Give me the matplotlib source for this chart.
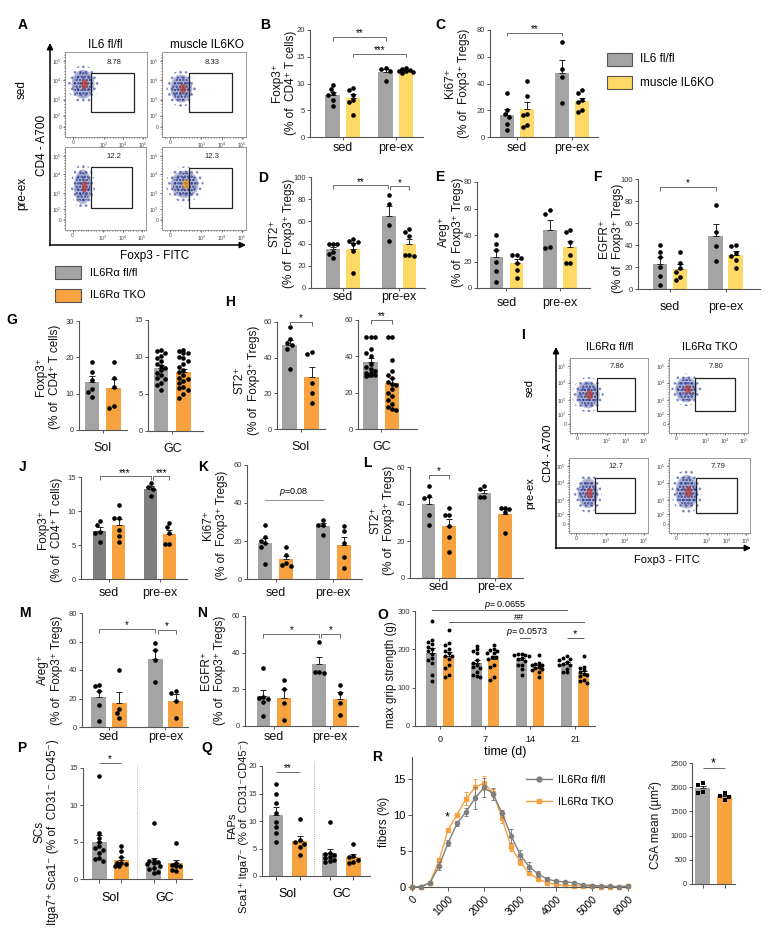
import numpy as np
import matplotlib
matplotlib.use("Agg")
import matplotlib.pyplot as plt
from matplotlib.patches import Rectangle, Ellipse
from matplotlib.lines import Line2D

plt.rcParams['font.family'] = ['Liberation Sans', 'DejaVu Sans']
plt.rcParams['mathtext.fontset'] = 'custom'
plt.rcParams['mathtext.rm'] = 'Liberation Sans'
plt.rcParams['mathtext.it'] = 'Liberation Sans:italic'
plt.rcParams['hatch.linewidth'] = 1.2

# ------------------------------------------------------------------ data
grp2 = ['sed', 'pre-ex']
tissues = ['Sol', 'GC']
days = ['0', '7', '14', '21']

# order in each 4-list: sed fl/fl, sed KO, pre-ex fl/fl, pre-ex KO
B_vals = [[9.8, 9.0, 8.2, 7.8, 6.9, 5.8], [9.1, 8.8, 7.8, 6.9, 6.6, 4.1],
          [12.9, 12.8, 12.3, 10.5], [12.9, 12.7, 12.5, 12.4, 12.2, 12.0, 12.3]]
C_vals = [[33, 20, 17, 15, 10, 5], [42, 31, 17.5, 16.8, 8.8, 7.5],
          [71, 51, 44.5, 25.5], [35, 33, 28, 26, 20, 18.8]]
D_vals = [[40, 39.7, 39.7, 32.8, 31, 27], [44, 42, 41, 40, 33, 13.5],
          [83.6, 76, 56.7, 42.4], [52.8, 50.7, 47, 30, 29, 30]]
E_vals = [[40, 33, 28.7, 20, 12.5, 4.2], [25, 25, 22.5, 18.7, 13.7, 7.5],
          [56, 58.7, 30, 30.7], [42.5, 43.7, 35, 18.7, 18.7, 25]]
F_vals = [[40, 34, 29, 20.4, 11.9, 3.6], [34, 24, 18.8, 15.8, 10.6, 8.2],
          [76.6, 52, 39, 25.8], [40, 39, 33, 30, 26, 19]]
G_sol = [[18.8, 16.0, 13.8, 11.2, 10.5, 9.2], [18.8, 14.2, 11.9, 6.6, 6.1]]
G_gc = [[11.0, 10.8, 10.5, 10.2, 9.8, 9.5, 9.0, 8.8, 8.5, 8.2, 7.8, 7.5, 7.2, 7.0, 6.5, 6.2, 5.6],
        [11.0, 10.8, 10.6, 10.5, 10.0, 9.8, 9.5, 9.0, 8.7, 8.3, 8.0, 7.5, 7.2, 7.0, 6.8,
         6.5, 6.0, 5.8, 5.5, 5.0, 4.5]]
H_sol = [[57, 50.7, 48.5, 47, 45, 33.8], [43.2, 41.9, 25.9, 20.3, 14.6]]
H_gc = [[50.5, 50.5, 50.5, 44, 42, 40, 36, 34, 33, 32, 31, 31, 30, 30, 29.5, 29],
        [50.5, 50.5, 38, 32, 30, 28, 26, 25, 24, 22, 20, 18, 16, 14, 12, 11, 10.5]]
J_vals = [[8.5, 7.9, 6.9, 6.8, 5.5], [10.9, 9.0, 8.9, 7.2, 6.3, 5.5],
          [14.1, 13.5, 13.3, 12.2], [8.3, 7.7, 6.8, 5.2, 5.2]]
K_vals = [[28.5, 22, 20, 19, 17, 8], [16.6, 12.6, 8.3, 7.4, 6.6],
          [31.2, 28.6, 28.2, 23], [27.9, 25.3, 18.7, 11.4, 5.7]]
L_vals = [[49.8, 44.4, 43, 33.8, 28.9], [38, 34, 33.8, 28, 22, 14.2],
          [49.6, 48, 43.6, 43.6], [38.1, 38.1, 37.5, 35.6, 24.5]]
M_vals = [[29.5, 28.8, 25.5, 15.4, 4.4], [40, 12.6, 9.8, 6.3],
          [59, 54, 47, 31.8], [25.3, 24.1, 18.5, 6.3]]
N_vals = [[31.7, 16, 15.3, 14.8, 13.3, 5.6], [25.1, 20.2, 12.6, 3.3],
          [45.9, 29.7, 29.1, 29.7], [22.4, 18.2, 12.7, 6]]
# O: grip strength (g) per day: fl/fl, TKO
O_fl = [[274, 225, 220, 214, 207, 200, 195, 188, 178, 173, 165, 134, 117],
        [210, 200, 195, 190, 172, 165, 160, 155, 152, 140, 134, 130, 129],
        [189, 187, 186, 185, 182, 178, 175, 170, 160, 158, 150, 134],
        [182, 178, 175, 173, 168, 162, 160, 160, 150, 140, 140]]
O_tko = [[250, 217, 212, 200, 195, 190, 182, 182, 175, 160, 152, 134, 129],
         [212, 201, 198, 195, 190, 190, 181, 180, 175, 160, 155, 129, 121],
         [186, 165, 162, 160, 158, 155, 152, 148, 147, 140, 127],
         [182, 155, 152, 145, 140, 135, 134, 130, 121, 117, 113]]
# P, Q: Sol fl, Sol TKO, GC fl, GC TKO
P_vals = [[13.9, 6.2, 5.6, 5.0, 4.4, 4.2, 3.9, 3.5, 2.8, 2.7, 2.4],
          [4.4, 3.8, 3.0, 2.2, 2.1, 2.0, 1.75, 1.7],
          [7.6, 2.6, 2.4, 2.3, 2.2, 2.0, 1.8, 1.5, 1.4, 1.0, 0.85],
          [4.9, 2.2, 1.9, 1.75, 1.7, 1.2, 1.1]]
Q_vals = [[16.7, 15.0, 13.3, 11.5, 9.9, 9.0, 7.8, 6.2],
          [10.4, 6.5, 6.2, 5.9, 5.3, 3.8],
          [9.9, 4.2, 4.0, 3.9, 3.5, 3.2, 2.9, 2.7, 2.6],
          [5.9, 3.6, 3.4, 3.0, 2.6, 2.4]]
# R: fiber CSA distribution
R_x = [0, 250, 500, 750, 1000, 1250, 1500, 1750, 2000, 2250, 2500, 2750, 3000,
       3250, 3500, 3750, 4000, 4250, 4500, 4750, 5000, 5250, 5500, 5750, 6000]
R_fl = [0, 0.05, 0.6, 2.9, 6.1, 8.8, 10.4, 12.3, 13.8, 12.9, 10.2, 7.1, 4.5,
        2.8, 1.8, 1.1, 0.8, 0.7, 0.6, 0.3, 0.2, 0.15, 0.1, 0.05, 0.1]
R_fl_err = [0, 0, 0.1, 0.5, 0.4, 0.3, 0.5, 1.5, 1.3, 0.8, 0.5, 1.0, 0.6,
            0.6, 0.4, 0.3, 0.2, 0.2, 0.15, 0.1, 0.1, 0.05, 0.05, 0.05, 0.1]
R_tko = [0, 0.05, 0.6, 3.7, 7.9, 10.0, 12.2, 13.8, 14.4, 13.0, 9.5, 5.5, 3.5,
         1.9, 1.1, 0.6, 0.35, 0.25, 0.2, 0.1, 0.1, 0.05, 0.05, 0.05, 0.1]
R_tko_err = [0, 0, 0.1, 0.3, 0.3, 0.3, 0.9, 1.1, 1.0, 0.6, 0.6, 0.5, 0.4,
             0.3, 0.2, 0.2, 0.1, 0.1, 0.1, 0.05, 0.05, 0.05, 0.05, 0.05, 0.1]
R_csa = [[2045, 2080, 1907, 1873], [1874, 1804, 1825, 1736]]

# flow cytometry panels
A_pct = ['8.78', '8.33', '12.2', '12.3']
I_pct = ['7.86', '7.80', '12.7', '7.79']
A_cols = ['IL6 fl/fl', 'muscle IL6KO']
I_cols = ['IL6Rα fl/fl', 'IL6Rα TKO']
flow_rows = ['sed', 'pre-ex']
leg_top = ['IL6 fl/fl', 'muscle IL6KO']
leg_bot = ['IL6Rα fl/fl', 'IL6Rα TKO']

# ------------------------------------------------------------------ style
W, H = 773, 940
GREY = '#A4A4A4'
GREY_D = '#7E807E'
YEL = '#FFD966'
ORG = '#F7A23E'
AXC = '#555555'
TXC = '#333333'
NAVY = '#2B3A8F'

fig = plt.figure(figsize=(W / 100, H / 100), dpi=100)
fig.patch.set_facecolor('white')

ov = fig.add_axes([0, 0, 1, 1], zorder=10)
ov.set_xlim(0, W)
ov.set_ylim(H, 0)
ov.axis('off')


def new_ax(rect):
    l, t, r, b = rect
    return fig.add_axes([l / W, 1 - b / H, (r - l) / W, (b - t) / H])


def style(ax, ymax, yticks, xlim, ytick_fs=5.5):
    ax.set_xlim(*xlim)
    ax.set_ylim(0, ymax)
    ax.patch.set_alpha(0)
    for s in ('top', 'right'):
        ax.spines[s].set_visible(False)
    for s in ('left', 'bottom'):
        ax.spines[s].set_color(AXC)
        ax.spines[s].set_linewidth(0.8)
    ax.set_yticks(yticks)
    ax.tick_params(axis='y', labelsize=ytick_fs, length=2.5, width=0.7, pad=1.2,
                   color=AXC, labelcolor=TXC)
    ax.tick_params(axis='x', length=2.5, width=0.7, color=AXC, labelcolor='#111')


def swarm(ax, x0, vals, d, maxoff):
    T = ax.transData
    vals = np.asarray(vals, float)
    pts = T.transform(np.column_stack([np.full(len(vals), x0), vals]))
    cx = pts[0, 0]
    cands = [0.0]
    k = 1
    step = d * 0.5
    while k * step <= maxoff:
        cands += [-k * step, k * step]
        k += 1
    placed = []
    out = np.zeros(len(vals))
    for i in np.argsort(-vals, kind='stable'):
        y = pts[i, 1]
        best = None
        bestd, bestx = -1, cx
        for c in cands:
            x = cx + c
            md = min([np.hypot(x - px, y - py) for px, py in placed], default=1e9)
            if md >= d:
                best = x
                break
            if md > bestd:
                bestd, bestx = md, x
        if best is None:
            best = bestx
        placed.append((best, y))
        out[i] = T.inverted().transform((best, y))[0]
    return out


def bars(ax, vals, colors, pos, width, dot_px=4.4, ms=11, marker='o', maxoff=None):
    x0 = ax.transData.transform((0, 0))[0]
    x1 = ax.transData.transform((width, 0))[0]
    wpx = x1 - x0
    if maxoff is None:
        maxoff = wpx * 0.45
    for v, c, p in zip(vals, colors, pos):
        v = np.asarray(v, float)
        m = v.mean()
        sem = v.std(ddof=1) / np.sqrt(len(v))
        ax.bar(p, m, width, color=c, lw=0, zorder=1)
        ax.errorbar(p, m, yerr=[[0], [sem]], fmt='none', ecolor='#222', elinewidth=0.7,
                    capsize=2.3, capthick=0.7, zorder=2)
        xs = swarm(ax, p, v, dot_px, maxoff)
        ax.scatter(xs, v, s=ms, c='k', lw=0, marker=marker, zorder=3, clip_on=False)


def bracket(ax, x1, x2, y, label, tick=True, fs=7, gap=-1.0, color='#555', lw=0.6):
    t = 0.035 * ax.get_ylim()[1] if tick else 0
    ax.plot([x1, x1, x2, x2], [y - t, y, y, y - t], color=color, lw=lw,
            clip_on=False, zorder=4, solid_capstyle='butt')
    ax.annotate(label, xy=((x1 + x2) / 2, y), xytext=(0, gap), textcoords='offset points',
                ha='center', va='bottom', fontsize=fs, annotation_clip=False)


def four_panel(rect, vals, cfl, cko, off, width, xlim, ymax, yticks, pad):
    ax = new_ax(rect)
    style(ax, ymax, yticks, xlim)
    bars(ax, vals, [cfl, cko, cfl, cko], [-off, off, 1 - off, 1 + off], width)
    ax.set_xticks([0, 1])
    ax.set_xticklabels(grp2, fontsize=9)
    ax.tick_params(axis='x', pad=pad)
    return ax


def ylab(x, y, s, fs=8.5, ls=1.25):
    lines = s.split('\n')
    step = fs * 100 / 72 * ls
    n = len(lines)
    for i, line in enumerate(lines):
        ov.text(x + (i - (n - 1) / 2) * step, y, line, rotation=90, ha='center',
                va='center', fontsize=fs, color='#111')


def letter(x, y, s):
    ov.text(x, y, s, ha='center', va='center', fontsize=10, fontweight='bold')


# ------------------------------------------------------------------ flow panels
FXT = [0.094, 0.47, 0.71, 0.95]
FXL = ['0', '$10^3$', '$10^4$', '$10^5$']
FYT = [0.12, 0.25, 0.44, 0.67, 0.89]
FYL = ['0', '$10^2$', '$10^3$', '$10^4$', '$10^5$']


def flow(rect, cloud, core, gate, pct):
    ax = new_ax(rect)
    ax.set_xlim(0, 1)
    ax.set_ylim(0, 1)
    for s in ax.spines.values():
        s.set_color('#888')
        s.set_linewidth(0.6)
    ax.set_xticks(FXT)
    ax.set_xticklabels(FXL, fontsize=3.6)
    ax.set_yticks(FYT)
    ax.set_yticklabels(FYL, fontsize=3.6)
    ax.set_xticks(np.linspace(0.03, 0.97, 30), minor=True)
    ax.set_yticks(np.linspace(0.03, 0.97, 30), minor=True)
    ax.tick_params(which='both', length=1.4, width=0.5, pad=1, color='#333', labelcolor='#444')
    ax.tick_params(which='minor', length=1.0)
    cx, cy, w, h = cloud
    ax.add_patch(Ellipse((cx, cy), w * 1.35, h * 1.3, facecolor='none', edgecolor=NAVY,
                         hatch='...', lw=0, alpha=0.55))
    ax.add_patch(Ellipse((cx, cy), w, h, facecolor=NAVY, edgecolor='none', alpha=0.35))
    ax.add_patch(Ellipse((cx, cy), w * 0.85, h * 0.85, facecolor='none', edgecolor=NAVY,
                         hatch='.....', lw=0))
    ax.add_patch(Ellipse((cx + 0.02, cy), w * 0.3, h * 0.35, facecolor=core, edgecolor='none',
                         alpha=0.7))
    gx0, gx1, gy0, gy1 = gate
    ax.add_patch(Rectangle((gx0, gy0), gx1 - gx0, gy1 - gy0, fill=False, ec='#222', lw=0.9))
    ax.text(0.6, 0.88, pct, fontsize=5.5, ha='center', va='center', color='#222')


A_rects = [(65, 52, 147, 137), (162, 52, 246, 137), (65, 147, 146, 230), (162, 147, 246, 230)]
A_clouds = [(0.22, 0.62, 0.28, 0.34), (0.23, 0.57, 0.26, 0.33),
            (0.22, 0.52, 0.22, 0.42), (0.27, 0.55, 0.33, 0.33)]
A_cores = ['#C0392B', '#C0392B', '#C0392B', '#F39C12']
A_gates = [(0.32, 0.84, 0.30, 0.75), (0.32, 0.83, 0.30, 0.75),
           (0.32, 0.83, 0.27, 0.76), (0.32, 0.83, 0.27, 0.75)]
for i in range(4):
    flow(A_rects[i], A_clouds[i], A_cores[i], A_gates[i], A_pct[i])

I_rects = [(570, 358, 648, 433), (669, 358, 748, 433), (569, 458, 648, 533), (669, 458, 750, 533)]
I_clouds = [(0.23, 0.51, 0.3, 0.36), (0.22, 0.58, 0.28, 0.34),
            (0.24, 0.53, 0.26, 0.4), (0.22, 0.55, 0.28, 0.45)]
I_cores = ['#C0392B'] * 4
I_gates = [(0.34, 0.83, 0.29, 0.74), (0.33, 0.83, 0.29, 0.74),
           (0.33, 0.84, 0.27, 0.74), (0.33, 0.84, 0.27, 0.74)]
for i in range(4):
    flow(I_rects[i], I_clouds[i], I_cores[i], I_gates[i], I_pct[i])

arw = dict(arrowstyle='-|>', lw=1.1, color='k', mutation_scale=9, shrinkA=0, shrinkB=0)
ov.annotate('', xy=(50, 43), xytext=(50, 245.5), arrowprops=arw)
ov.annotate('', xy=(246, 245), xytext=(49.5, 245), arrowprops=arw)
ov.text(105, 45, A_cols[0], ha='center', va='center', fontsize=8.5)
ov.text(207, 45, A_cols[1], ha='center', va='center', fontsize=8.5)
ov.text(155, 256, 'Foxp3 - FITC', ha='center', va='center', fontsize=8.5)
ov.text(42, 145, 'CD4 - A700', rotation=90, ha='center', va='center', fontsize=8.5)
ov.text(22, 90, flow_rows[0], rotation=90, ha='center', va='center', fontsize=8.5)
ov.text(22, 193, flow_rows[1], rotation=90, ha='center', va='center', fontsize=8.5)

ov.annotate('', xy=(556, 347), xytext=(556, 548.5), arrowprops=arw)
ov.annotate('', xy=(751, 548), xytext=(555.5, 548), arrowprops=arw)
ov.text(610, 347, I_cols[0], ha='center', va='center', fontsize=8)
ov.text(710, 347, I_cols[1], ha='center', va='center', fontsize=8)
ov.text(667, 560, 'Foxp3 - FITC', ha='center', va='center', fontsize=8)
ov.text(548, 453, 'CD4 - A700', rotation=90, ha='center', va='center', fontsize=8)
ov.text(530, 388, flow_rows[0], rotation=90, ha='center', va='center', fontsize=8)
ov.text(530, 493, flow_rows[1], rotation=90, ha='center', va='center', fontsize=8)

# legends
for (y0, c, s) in [(53, GREY, leg_top[0]), (76, YEL, leg_top[1])]:
    ov.add_patch(Rectangle((607, y0), 25, 13, facecolor=c, edgecolor='#555', lw=0.8))
    ov.text(640, y0 + 6.5, s, ha='left', va='center', fontsize=8.5)
for (y0, c, s) in [(266, GREY, leg_bot[0]), (289, ORG, leg_bot[1])]:
    ov.add_patch(Rectangle((55, y0), 26, 13, facecolor=c, edgecolor='#555', lw=0.8))
    ov.text(90, y0 + 6.5, s, ha='left', va='center', fontsize=8)

# ------------------------------------------------------------------ B - F
ax = four_panel((310, 30, 423, 137), B_vals, GREY, YEL, 0.19, 0.28, (-0.62, 1.51), 20,
                [0, 5, 10, 15, 20], 0.8)
bracket(ax, -0.19, 0.81, 18.7, '**')
bracket(ax, 0.19, 1.19, 15.6, '***')
ylab(284, 83, 'Foxp3⁺\n(% of  CD4⁺ T cells)')

ax = four_panel((490, 30, 598, 137), C_vals, GREY, YEL, 0.18, 0.25, (-0.49, 1.47), 80,
                [0, 20, 40, 60, 80], 0.8)
bracket(ax, -0.18, 0.82, 78, '**')
ylab(457, 83, 'Ki67⁺\n(% of  Foxp3⁺ Tregs)')

ax = four_panel((311, 177, 425, 288), D_vals, GREY, YEL, 0.18, 0.24, (-0.57, 1.46), 100,
                [0, 20, 40, 60, 80, 100], 0)
bracket(ax, -0.18, 0.8, 92.5, '**')
bracket(ax, 0.84, 1.18, 91.6, '*')
ylab(282, 233, 'ST2⁺\n(% of  Foxp3⁺ Tregs)')

ax = four_panel((477, 182, 590, 288), E_vals, GREY, YEL, 0.19, 0.25, (-0.55, 1.56), 80,
                [0, 20, 40, 60, 80], 4)
ylab(451, 232, 'Areg⁺\n(% of  Foxp3⁺ Tregs)')

ax = four_panel((638, 179, 760, 289), F_vals, GREY, YEL, 0.18, 0.26, (-0.58, 1.62), 100,
                [0, 20, 40, 60, 80, 100], 6.2)
bracket(ax, -0.18, 0.82, 92.7, '*')
ylab(611, 238, 'EGFR⁺\n(% of  Foxp3⁺ Tregs)')


# ------------------------------------------------------------------ G, H
def one_group(rect, vals, off, width, xlim, ymax, yticks, name, pad=6.3):
    ax = new_ax(rect)
    style(ax, ymax, yticks, xlim)
    bars(ax, vals, [GREY, ORG], [-off, off], width)
    ax.set_xticks([0])
    ax.set_xticklabels([name], fontsize=9)
    ax.tick_params(axis='x', pad=pad)
    return ax


one_group((79, 321, 127, 430), G_sol, 0.215, 0.29, (-0.475, 0.485), 30, [0, 10, 20, 30], tissues[0])
one_group((148, 320, 203, 431), G_gc, 0.225, 0.29, (-0.485, 0.615), 15, [0, 5, 10, 15], tissues[1])
ylab(48, 377, 'Foxp3⁺\n(% of  CD4⁺ T cells)')

ax = one_group((277, 322, 325, 429), H_sol, 0.22, 0.29, (-0.47, 0.49), 60, [0, 20, 40, 60], tissues[0])
bracket(ax, -0.22, 0.22, 60, '*')
ax = one_group((358, 320, 417, 429), H_gc, 0.215, 0.29, (-0.465, 0.715), 60, [0, 20, 40, 60], tissues[1])
bracket(ax, -0.215, 0.215, 60, '**')
ylab(247, 380, 'ST2⁺\n(% of  Foxp3⁺ Tregs)')

# ------------------------------------------------------------------ J, K, L
ax = four_panel((81, 477, 187, 579), J_vals, GREY_D, ORG, 0.186, 0.255, (-0.55, 1.53), 15,
                [0, 5, 10, 15], 3.3)
bracket(ax, -0.186, 0.814, 15.1, '***')
bracket(ax, 0.86, 1.186, 15.1, '***')
ylab(50, 530, 'Foxp3⁺\n(% of  CD4⁺ T cells)')

ax = four_panel((247, 465, 362, 579), K_vals, GREY, ORG, 0.185, 0.245, (-0.5, 1.5), 60,
                [0, 20, 40, 60], 3.3)
ax.plot([-0.185, 0.815], [41.6, 41.6], color='#999', lw=0.8, clip_on=False)
ax.text(0.31, 45.8, '$p$=0.08', ha='center', va='center', fontsize=6.5)
ylab(215, 525, 'Ki67⁺\n(% of  Foxp3⁺ Tregs)')

ax = four_panel((410, 467, 523, 578), L_vals, GREY, ORG, 0.185, 0.245, (-0.52, 1.51), 60,
                [0, 20, 40, 60], 0)
bracket(ax, -0.185, 0.185, 55.6, '*')
ylab(382, 520, 'ST2⁺\n(% of  Foxp3⁺ Tregs)', ls=1.15)

# ------------------------------------------------------------------ M, N, O
ax = four_panel((82, 613, 188, 727), M_vals, GREY, ORG, 0.18, 0.265, (-0.48, 1.4), 80,
                [0, 20, 40, 60, 80], 0.4)
bracket(ax, -0.18, 0.82, 68.8, '*')
bracket(ax, 0.86, 1.18, 68.0, '*')
ylab(50, 670, 'Areg⁺\n(% of  Foxp3⁺ Tregs)')

ax = four_panel((245, 616, 358, 726), N_vals, GREY, ORG, 0.185, 0.245, (-0.515, 1.51), 60,
                [0, 20, 40, 60], 1.1)
bracket(ax, -0.185, 0.815, 50.3, '*')
bracket(ax, 0.85, 1.185, 50.3, '*')
ylab(213, 670, 'EGFR⁺\n(% of  Foxp3⁺ Tregs)')

axO = new_ax((415, 611, 595, 726))
style(axO, 300, [0, 100, 200, 300], (-0.56, 3.44))
oo = 0.19
posO, valsO, colsO = [], [], []
for i in range(4):
    posO += [i - oo, i + oo]
    valsO += [O_fl[i], O_tko[i]]
    colsO += [GREY, ORG]
bars(axO, valsO, colsO, posO, 0.255, dot_px=3.6, ms=8, maxoff=8)
axO.set_xticks(range(4))
axO.set_xticklabels(days, fontsize=6.5)
axO.tick_params(axis='x', pad=3.7)
axO.set_xlabel('time (d)', fontsize=9, labelpad=2)
axO.plot([-oo, 3 - oo], [302.6, 302.6], color='#444', lw=0.6, clip_on=False)
axO.text(1.44, 315.7, '$p$= 0.0655', ha='center', va='center', fontsize=6.5)
axO.plot([oo, 3 + oo], [271, 271], color='#444', lw=0.6, clip_on=False)
axO.text(1.76, 284, '##', ha='center', va='center', fontsize=6.5)
axO.plot([1.78, 2.0], [229.6, 229.6], color='#444', lw=0.6, clip_on=False)
axO.text(1.93, 245, '$p$= 0.0573', ha='center', va='center', fontsize=6.5)
bracket(axO, 3 - oo, 3 + oo, 229.6, '*', tick=False, fs=8, color='#444')
ylab(391, 675, 'max grip strength (g)', fs=8.3)


# ------------------------------------------------------------------ P, Q
def tissue_panel(rect, vals, off, width, xlim, ymax, yticks, sep, pad):
    ax = new_ax(rect)
    style(ax, ymax, yticks, xlim)
    pos = [-off, off, 1 - off, 1 + off]
    bars(ax, vals, [GREY, ORG, GREY, ORG], pos, width)
    ax.set_xticks(pos)
    ax.set_xticklabels([])
    ax.tick_params(axis='x', length=3.2)
    ax.set_xticks([0, 1], minor=True)
    ax.set_xticklabels(tissues, minor=True, fontsize=9)
    ax.tick_params(axis='x', which='minor', length=0, pad=pad)
    ax.plot([sep, sep], [0, ymax * 1.04], ls=(0, (1, 1.5)), color='#999', lw=0.6, clip_on=False)
    return ax


ax = tissue_panel((83, 768, 192, 879), P_vals, 0.205, 0.275, (-0.5, 1.5), 15, [0, 5, 10, 15], 0.495, 9.6)
bracket(ax, -0.205, 0.205, 15.7, '*', tick=False)
ylab(46, 832, 'SCs\nItga7⁺ Sca1⁻ (% of  CD31⁻ CD45⁻)', fs=8.5, ls=1.15)

ax = tissue_panel((262, 766, 370, 876), Q_vals, 0.22, 0.27, (-0.48, 1.53), 20, [0, 5, 10, 15, 20], 0.49, 8.8)
bracket(ax, -0.22, 0.22, 18.9, '**', tick=False)
ylab(238, 826, 'FAPs\nSca1⁺ Itga7⁻ (% of  CD31⁻CD45⁻)', fs=8, ls=1.05)

# ------------------------------------------------------------------ R
axR = new_ax((412, 757, 630, 887))
axR.set_xlim(0, 6050)
axR.set_ylim(0, 18)
axR.patch.set_alpha(0)
for s in ('top', 'right'):
    axR.spines[s].set_visible(False)
for s in ('left', 'bottom'):
    axR.spines[s].set_color(AXC)
    axR.spines[s].set_linewidth(0.8)
GL = '#7F7F7F'
axR.errorbar(R_x, R_fl, yerr=R_fl_err, color=GL, marker='o', ms=3, lw=1.0, capsize=1.5,
             elinewidth=0.7, capthick=0.7, clip_on=False, zorder=3)
axR.errorbar(R_x, R_tko, yerr=R_tko_err, color=ORG, marker='s', ms=3, lw=1.0, capsize=1.5,
             elinewidth=0.7, capthick=0.7, clip_on=False, zorder=2)
axR.set_yticks([0, 5, 10, 15])
axR.set_xticks(range(0, 6001, 1000))
axR.set_xticklabels([str(v) for v in range(0, 6001, 1000)], rotation=45, ha='right',
                    va='top', rotation_mode='anchor', fontsize=7.5)
axR.tick_params(axis='y', labelsize=8, length=3, width=0.7, color=AXC, pad=1.5)
axR.tick_params(axis='x', length=3, width=0.7, color=AXC, pad=2)
axR.text(972, 9.6, '*', ha='center', va='center', fontsize=9)
ylab(384, 822, 'fibers (%)', fs=8.5)
handles = [Line2D([], [], color=GL, marker='o', ms=3.5, lw=1.0),
           Line2D([], [], color=ORG, marker='s', ms=3.5, lw=1.0)]
fig.legend(handles, leg_bot, loc='upper left', bbox_to_anchor=(526 / W, 1 - 775 / H),
           frameon=False, fontsize=8, handlelength=2.3, handletextpad=0.6,
           labelspacing=1.1, borderpad=0, borderaxespad=0)

axI = new_ax((692, 763, 735, 884))
style(axI, 2500, [0, 500, 1000, 1500, 2000, 2500], (-0.43, 0.43), ytick_fs=5.5)
bars(axI, R_csa, [GREY, ORG], [-0.22, 0.22], 0.29, dot_px=4.2, ms=11, marker='s')
axI.set_xticks([-0.22, 0.22])
axI.set_xticklabels([])
axI.tick_params(axis='x', length=3)
bracket(axI, -0.22, 0.22, 2390, '*', tick=False, fs=9)
ylab(656, 825, 'CSA mean (µm²)', fs=8.5)

# ------------------------------------------------------------------ letters
for s, x, y in [('A', 23, 25), ('B', 265, 25), ('C', 440, 25), ('D', 263, 178), ('E', 440, 177),
                ('F', 597, 177), ('G', 12, 320), ('H', 230, 302), ('I', 523, 335),
                ('J', 23, 467), ('K', 203, 467), ('L', 367, 463), ('M', 25, 613),
                ('N', 202, 613), ('O', 383, 615), ('P', 22, 748), ('Q', 207, 748),
                ('R', 377, 757)]:
    letter(x, y, s)

fig.savefig('out.png', dpi=100)
